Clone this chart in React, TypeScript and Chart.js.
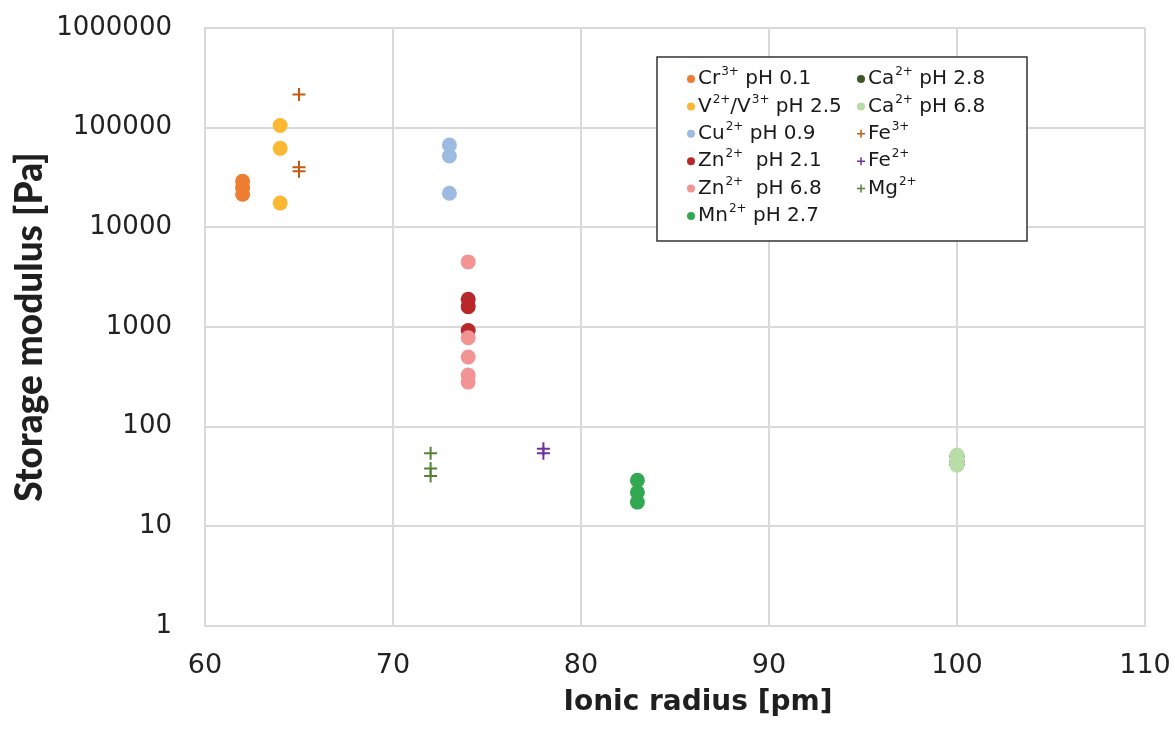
import { useEffect, useRef } from "react";
import { Chart, registerables } from "chart.js";

Chart.register(...registerables);

// ---- data ----
const seriesLabels = [
  "Cr³⁺ pH 0.1",
  "V²⁺/V³⁺ pH 2.5",
  "Cu²⁺ pH 0.9",
  "Zn²⁺  pH 2.1",
  "Zn²⁺  pH 6.8",
  "Mn²⁺ pH 2.7",
  "Ca²⁺ pH 2.8",
  "Ca²⁺ pH 6.8",
  "Fe³⁺",
  "Fe²⁺",
  "Mg²⁺",
];
const ionicRadius = [62, 64, 73, 74, 74, 83, 100, 100, 65, 78, 72];
const crValues = [29000, 25000, 21500];
const vValues = [105000, 62000, 17500];
const cuValues = [67000, 52000, 22000];
const zn21Values = [1900, 1600, 920];
const zn68Values = [4500, 780, 500, 330, 280];
const mnValues = [29, 22, 17.5];
const ca28Values = [50, 45, 42];
const ca68Values = [52, 46, 41];
const fe3Values = [215000, 40000, 36500];
const fe2Values = [60, 54];
const mgValues = [54, 38, 32];
const seriesValues = [
  crValues, vValues, cuValues, zn21Values, zn68Values, mnValues,
  ca28Values, ca68Values, fe3Values, fe2Values, mgValues,
];
const xTicks = [60, 70, 80, 90, 100, 110];
const yTicks = [1, 10, 100, 1000, 10000, 100000, 1000000];
const xTitle = "Ionic radius [pm]";
const yTitle = "Storage modulus [Pa]";

// ---- styles ----
const seriesColors = [
  "#ED7D31", "#FBB833", "#9DBBE0", "#B8282A", "#F29493", "#33A852",
  "#3B5A26", "#B9DDA6", "#C55A11", "#7030A0", "#548235",
];
const seriesMarkers = [
  "circle", "circle", "circle", "circle", "circle", "circle",
  "circle", "circle", "cross", "cross", "cross",
];

const SUP: Record<string, string> = { "²": "2", "³": "3", "⁺": "+" };

function drawRich(ctx: CanvasRenderingContext2D, text: string, x: number, y: number) {
  let cx = x;
  let i = 0;
  while (i < text.length) {
    const isSup = SUP[text[i]] !== undefined;
    let run = "";
    while (i < text.length && (SUP[text[i]] !== undefined) === isSup) {
      run += isSup ? SUP[text[i]] : text[i];
      i++;
    }
    if (isSup) {
      ctx.font = "12px 'DejaVu Sans'";
      ctx.fillText(run, cx + 1, y - 7);
      cx += ctx.measureText(run).width + 1;
    } else {
      ctx.font = "20px 'DejaVu Sans'";
      ctx.fillText(run, cx, y);
      cx += ctx.measureText(run).width;
    }
  }
}

const legendPlugin = {
  id: "customLegend",
  afterDraw(chart: any) {
    const ctx: CanvasRenderingContext2D = chart.ctx;
    const bx = 657, by = 57, bw = 370, bh = 184;
    ctx.save();
    ctx.fillStyle = "#ffffff";
    ctx.fillRect(bx, by, bw, bh);
    ctx.strokeStyle = "#333333";
    ctx.lineWidth = 1.5;
    ctx.strokeRect(bx, by, bw, bh);
    ctx.textBaseline = "middle";
    ctx.textAlign = "left";
    seriesLabels.forEach((label, i) => {
      const col = i < 6 ? 0 : 1;
      const row = i < 6 ? i : i - 6;
      const mx = col === 0 ? 691 : 861;
      const my = 79 + row * 27.4;
      const color = seriesColors[i];
      if (seriesMarkers[i] === "circle") {
        ctx.fillStyle = color;
        ctx.beginPath();
        ctx.arc(mx, my, 4, 0, Math.PI * 2);
        ctx.fill();
      } else {
        ctx.strokeStyle = color;
        ctx.lineWidth = 1.5;
        ctx.beginPath();
        ctx.moveTo(mx - 4, my);
        ctx.lineTo(mx + 4, my);
        ctx.moveTo(mx, my - 4);
        ctx.lineTo(mx, my + 4);
        ctx.stroke();
      }
      ctx.fillStyle = "#1a1a1a";
      drawRich(ctx, label, mx + 7, my);
    });

    // x-axis title (placed slightly right of the plot centre, as in the reference)
    ctx.font = "bold 28px 'DejaVu Sans'";
    ctx.fillStyle = "#1f1f1f";
    ctx.textAlign = "center";
    ctx.textBaseline = "middle";
    ctx.fillText(xTitle, 698, 703);
    ctx.restore();
  },
};

export default function App() {
  const canvasRef = useRef<HTMLCanvasElement | null>(null);

  useEffect(() => {
    if (!canvasRef.current) return;
    const datasets = seriesLabels.map((label, i) => ({
      label,
      data: seriesValues[i].map((v) => ({ x: ionicRadius[i], y: v })),
      pointStyle: seriesMarkers[i],
      pointRadius: seriesMarkers[i] === "circle" ? 7.5 : 6.5,
      pointHoverRadius: seriesMarkers[i] === "circle" ? 7.5 : 6.5,
      backgroundColor: seriesColors[i],
      borderColor: seriesColors[i],
      borderWidth: seriesMarkers[i] === "circle" ? 0 : 2,
      order: -i,
    }));

    const chart: any = new Chart(canvasRef.current, {
      type: "scatter",
      data: { datasets: datasets as any },
      plugins: [legendPlugin],
      options: {
        animation: false,
        responsive: true,
        maintainAspectRatio: false,
        layout: { padding: { top: 28, right: 30, left: 0, bottom: 0 } },
        plugins: { legend: { display: false }, tooltip: { enabled: false } },
        scales: {
          x: {
            type: "linear",
            min: 60,
            max: 110,
            afterBuildTicks: (scale: any) => {
              scale.ticks = xTicks.map((v) => ({ value: v }));
            },
            afterFit: (scale: any) => {
              scale.height = 107;
            },
            ticks: {
              padding: 0,
              color: "#222222",
              font: { family: "DejaVu Sans", size: 27 },
            },
            grid: {
              color: "#D9D9D9",
              lineWidth: 2,
              drawTicks: true,
              tickLength: 24,
              tickColor: "rgba(0,0,0,0)",
            },
            border: { color: "#D9D9D9", width: 2 },
            title: { display: false, text: xTitle },
          },
          y: {
            type: "logarithmic",
            min: 1,
            max: 1000000,
            afterBuildTicks: (scale: any) => {
              scale.ticks = yTicks.map((v) => ({ value: v }));
            },
            afterFit: (scale: any) => {
              scale.width = 205;
            },
            ticks: {
              padding: 0,
              color: "#222222",
              font: { family: "DejaVu Sans", size: 26 },
              callback: (v: any) => String(v),
            },
            grid: {
              color: "#D9D9D9",
              lineWidth: 2,
              drawTicks: true,
              tickLength: 33,
              tickColor: "rgba(0,0,0,0)",
            },
            border: { color: "#D9D9D9", width: 2 },
            title: {
              display: true,
              text: yTitle,
              color: "#1f1f1f",
              font: { family: "Lato", size: 37, weight: "900" },
              padding: { top: 8, bottom: 0 },
            },
          },
        },
      },
    });
    return () => chart.destroy();
  }, []);

  return (
    <div style={{ position: "fixed", left: 0, top: 0, width: 1175, height: 733, background: "#ffffff" }}>
      <canvas ref={canvasRef} />
    </div>
  );
}
